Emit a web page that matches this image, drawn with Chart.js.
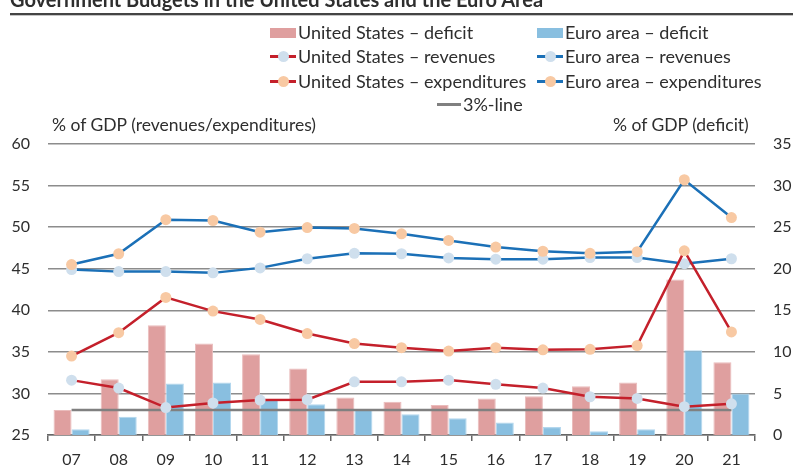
<!DOCTYPE html>
<html><head><meta charset="utf-8">
<script src="https://cdn.jsdelivr.net/npm/chart.js@4.4.1/dist/chart.umd.min.js"></script>
<style>
html,body{margin:0;padding:0;background:#fff;}
#wrap{position:relative;width:793px;height:468px;overflow:hidden;font-family:Lato,"Noto Sans",sans-serif;color:#2e2e2e;}
#chart{position:absolute;left:0;top:0;}
#title{position:absolute;left:10px;top:-11px;font-weight:700;font-size:20px;line-height:20px;white-space:nowrap;color:#2e2e2e;}
#rule{position:absolute;left:10px;right:0;top:13px;height:2px;background:#444;border-bottom:1px solid #c4c4c4;}
.hd{position:absolute;font-size:17.5px;line-height:20px;white-space:nowrap;color:#2e2e2e;}
.li{position:absolute;display:flex;align-items:center;height:20px;font-size:18px;line-height:20px;white-space:nowrap;color:#2e2e2e;}
.mk{position:relative;width:26px;height:20px;margin-right:2px;flex:none;}
.mk .bx{position:absolute;left:0;top:6px;width:26px;height:10px;}
.mk .ln{position:absolute;left:0;top:9px;width:26px;height:3px;}
.mk .pt{position:absolute;left:8px;top:5px;width:11px;height:11px;border-radius:50%;}
</style>
</head><body>
<div id="wrap">
  <canvas id="chart" width="793" height="468"></canvas>
  <div id="title">Government Budgets in the United States and the Euro Area</div>
  <div id="rule"></div>
  <div class="hd" style="left:52px;top:115px;">% of GDP (revenues/expenditures)</div>
  <div class="hd" style="left:613px;top:115px;">% of GDP (deficit)</div>
  <div id="legend"></div>
</div>
<script>
const years = ['07','08','09','10','11','12','13','14','15','16','17','18','19','20','21'];
const usDeficit = [3.0, 6.7, 13.2, 11.0, 9.7, 8.0, 4.5, 4.0, 3.6, 4.4, 4.65, 5.85, 6.3, 18.7, 8.75];
const euDeficit = [0.7, 2.2, 6.2, 6.3, 4.2, 3.7, 3.1, 2.5, 2.0, 1.5, 0.95, 0.45, 0.7, 10.2, 5.0];
const usRevenues = [31.6, 30.65, 28.3, 28.85, 29.2, 29.25, 31.4, 31.4, 31.6, 31.1, 30.65, 29.6, 29.4, 28.4, 28.75];
const usExpenditures = [34.5, 37.3, 41.55, 39.9, 38.9, 37.2, 36.0, 35.5, 35.1, 35.5, 35.25, 35.3, 35.75, 47.15, 37.4];
const euRevenues = [44.9, 44.65, 44.65, 44.5, 45.1, 46.2, 46.85, 46.8, 46.3, 46.15, 46.15, 46.35, 46.35, 45.6, 46.2];
const euExpenditures = [45.5, 46.8, 50.9, 50.8, 49.4, 49.95, 49.85, 49.2, 48.4, 47.6, 47.1, 46.85, 47.05, 55.7, 51.15];
const threePctLine = [3, 3, 3, 3, 3, 3, 3, 3, 3, 3, 3, 3, 3, 3, 3];
const leftTicks = {min: 25, max: 60, step: 5};
const rightTicks = {min: 0, max: 35, step: 5};

const RED = '#c4202b', BLUE = '#1b70b7', REVPT = '#cfdfed', EXPPT = '#f8c9a3';
const FONT = {family: 'Lato', size: 16};

function lineDs(label, data, color, ptColor, order) {
  return {type: 'line', label, data, yAxisID: 'y', borderColor: color, backgroundColor: ptColor,
    borderWidth: 2.5, pointRadius: 5.5, pointBackgroundColor: ptColor, pointBorderWidth: 0,
    pointBorderColor: ptColor, tension: 0, order};
}

function draw() {
  const chart = new Chart(document.getElementById('chart'), {
    data: {
      labels: years,
      datasets: [
        {type: 'bar', label: 'United States – deficit', data: usDeficit, yAxisID: 'y1',
         backgroundColor: '#df9f9f', borderColor: '#eabcbc', borderWidth: 1,
         barPercentage: 1, categoryPercentage: 0.765, order: 5},
        {type: 'bar', label: 'Euro area – deficit', data: euDeficit, yAxisID: 'y1',
         backgroundColor: '#89bfe0', borderColor: '#b3d7ee', borderWidth: 1,
         barPercentage: 1, categoryPercentage: 0.765, order: 5},
        lineDs('United States – revenues', usRevenues, RED, REVPT, 2),
        lineDs('Euro area – revenues', euRevenues, BLUE, REVPT, 2),
        lineDs('United States – expenditures', usExpenditures, RED, EXPPT, 1),
        lineDs('Euro area – expenditures', euExpenditures, BLUE, EXPPT, 1),
        {type: 'line', label: '3%-line', data: threePctLine, yAxisID: 'y1', borderColor: '#808080',
         backgroundColor: '#808080', borderWidth: 2.5, pointRadius: 0, order: 3}
      ]
    },
    options: {
      responsive: false, animation: false,
      layout: {padding: {top: 144, left: 0, right: 0, bottom: 0}},
      plugins: {legend: {display: false}, tooltip: {enabled: false}, title: {display: false}},
      scales: {
        x: {
          grid: {offset: true, drawOnChartArea: false, drawTicks: true, tickLength: 6, color: '#666', lineWidth: 1.5},
          border: {display: true, color: '#666', width: 1.5},
          ticks: {font: FONT, color: '#2e2e2e', padding: 9},
          afterFit(s) { s.height = 33; }
        },
        y: {
          position: 'left', min: leftTicks.min, max: leftTicks.max,
          ticks: {stepSize: leftTicks.step, padding: 18, font: FONT, color: '#2e2e2e'},
          grid: {drawTicks: false, color: '#8c8c8c', lineWidth: 1.5},
          border: {display: false},
          afterFit(s) { s.width = 48; }
        },
        y1: {
          position: 'right', min: rightTicks.min, max: rightTicks.max,
          ticks: {stepSize: rightTicks.step, padding: 18, font: FONT, color: '#2e2e2e'},
          grid: {display: false, drawTicks: false},
          border: {display: false},
          afterFit(s) { s.width = 38; }
        }
      }
    }
  });

  // HTML legend built from the chart's datasets
  const slots = [[0, 270, 22], [1, 537, 22], [2, 270, 46], [3, 537, 46], [4, 270, 71], [5, 537, 71], [6, 437, 94]];
  const lg = document.getElementById('legend');
  slots.forEach(([i, x, y]) => {
    const ds = chart.data.datasets[i];
    const item = document.createElement('div');
    item.className = 'li';
    item.style.left = x + 'px'; item.style.top = y + 'px';
    const mk = document.createElement('span');
    mk.className = 'mk';
    if (ds.type === 'bar') {
      mk.innerHTML = '<span class="bx" style="background:' + ds.backgroundColor + '"></span>';
    } else if (ds.pointRadius > 0) {
      mk.innerHTML = '<span class="ln" style="background:' + ds.borderColor + '"></span><span class="pt" style="background:' + ds.pointBackgroundColor + '"></span>';
    } else {
      mk.style.width = '24px';
      mk.innerHTML = '<span class="ln" style="width:24px;background:' + ds.borderColor + '"></span>';
    }
    item.appendChild(mk);
    const t = document.createElement('span');
    t.textContent = ds.label;
    item.appendChild(t);
    lg.appendChild(item);
  });
}
if (document.fonts && document.fonts.load) {
  Promise.all([document.fonts.load('16px Lato'), document.fonts.load('bold 20px Lato')]).then(draw, draw);
} else { draw(); }
</script>
</body></html>
